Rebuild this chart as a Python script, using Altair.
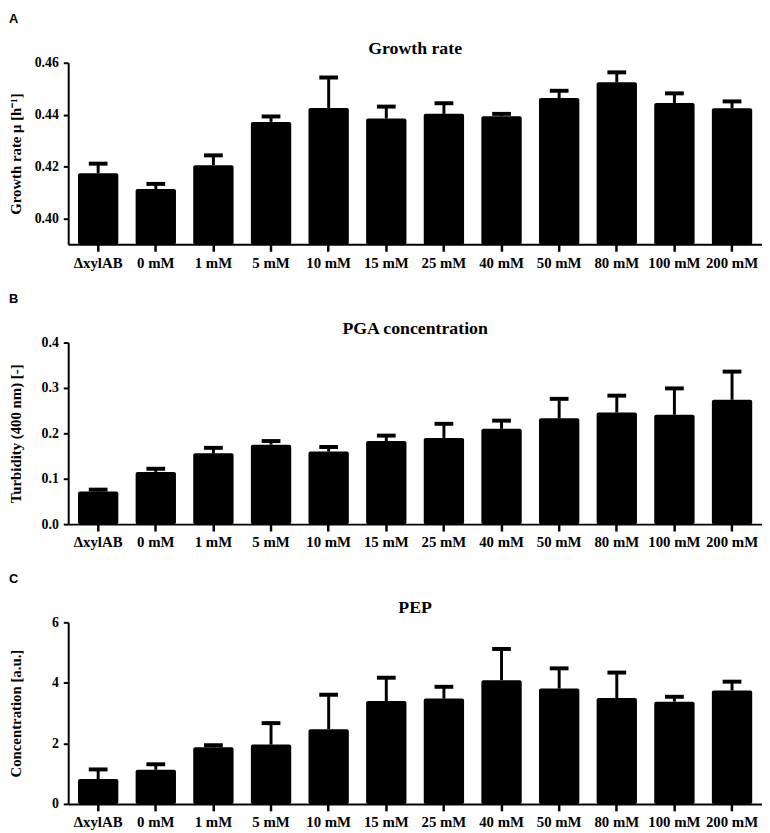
import altair as alt
import pandas as pd

categories = ["ΔxylAB", "0 mM", "1 mM", "5 mM", "10 mM", "15 mM", "25 mM",
              "40 mM", "50 mM", "80 mM", "100 mM", "200 mM"]

growth_mean = [0.4174, 0.4113, 0.4205, 0.4372, 0.4426, 0.4385, 0.4403, 0.4394,
               0.4464, 0.4525, 0.4445, 0.4425]
growth_upper = [0.4211, 0.4133, 0.4243, 0.4393, 0.4543, 0.4431, 0.4444, 0.4403,
                0.4492, 0.4563, 0.4482, 0.4451]

pga_mean = [0.072, 0.115, 0.156, 0.175, 0.160, 0.183, 0.190, 0.210, 0.233,
            0.246, 0.241, 0.274]
pga_upper = [0.076, 0.122, 0.168, 0.183, 0.170, 0.195, 0.221, 0.228, 0.276,
             0.283, 0.299, 0.336]

pep_mean = [0.82, 1.13, 1.87, 1.96, 2.47, 3.40, 3.48, 4.09, 3.81, 3.50, 3.38, 3.75]
pep_upper = [1.14, 1.31, 1.94, 2.67, 3.61, 4.17, 3.87, 5.12, 4.48, 4.34, 3.54, 4.04]

W = 703
H = 184
SERIF = "Liberation Serif"


def panel(letter, title, ytitle, mean, upper, domain, ticks, fmt):
    df = pd.DataFrame({"cat": categories, "mean": mean, "upper": upper})
    x = alt.X(
        "cat:N", sort=categories,
        scale=alt.Scale(paddingInner=0.3, paddingOuter=0.17),
        axis=alt.Axis(title=None, labelAngle=0, tickSize=7, tickWidth=2.5,
                      labelPadding=4, labelFontSize=15),
    )

    def y(field):
        return alt.Y(
            field, type="quantitative",
            scale=alt.Scale(domain=domain, zero=False, nice=False),
            axis=alt.Axis(title=ytitle, values=ticks, format=fmt, tickSize=5,
                          tickWidth=2, labelPadding=5, titleX=-48,
                          titleBaseline="alphabetic"),
        )

    base = alt.Chart(df)
    bars = base.mark_bar(color="black", cornerRadiusEnd=2).encode(
        x=x, y=y("mean"), y2=alt.datum(domain[0]))
    stem = base.mark_rule(color="black", strokeWidth=3).encode(
        x=x, y=y("mean"), y2="upper:Q")
    cap = base.mark_tick(color="black", size=19, thickness=4, opacity=1).encode(
        x=x, y=y("upper"))
    txt = alt.Chart(pd.DataFrame({"t": [title]})).mark_text(
        font=SERIF, fontSize=18, fontWeight="bold", baseline="alphabetic",
        align="center", color="black",
    ).encode(text="t:N", x=alt.value(W / 2), y=alt.value(-9))
    return alt.layer(bars, stem, cap, txt).properties(
        width=W, height=H,
        title=alt.Title(letter, anchor="start", frame="bounds",
                        font="Liberation Sans", fontSize=13, fontWeight="bold",
                        color="black", offset=14),
    )


pA = panel("A", "Growth rate", "Growth rate μ [h⁻¹]", growth_mean, growth_upper,
           [0.39, 0.46], [0.40, 0.42, 0.44, 0.46], ".2f")
pB = panel("B", "PGA concentration", "Turbidity (400 nm) [-]", pga_mean, pga_upper,
           [0.0, 0.4], [0.0, 0.1, 0.2, 0.3, 0.4], ".1f")
pC = panel("C", "PEP", "Concentration [a.u.]", pep_mean, pep_upper,
           [0, 6], [0, 2, 4, 6], "d")

chart = alt.vconcat(pA, pB, pC, spacing=23.5).properties(padding=0).configure_axis(
    domainColor="black", domainWidth=2, tickColor="black", grid=False,
    labelFont=SERIF, labelFontWeight="bold", labelFontSize=14, labelColor="black",
    titleFont=SERIF, titleFontWeight="bold", titleFontSize=15, titleColor="black",
).configure_view(stroke=None)

chart.save("out.html", embed_options={"renderer": "svg", "actions": False})
